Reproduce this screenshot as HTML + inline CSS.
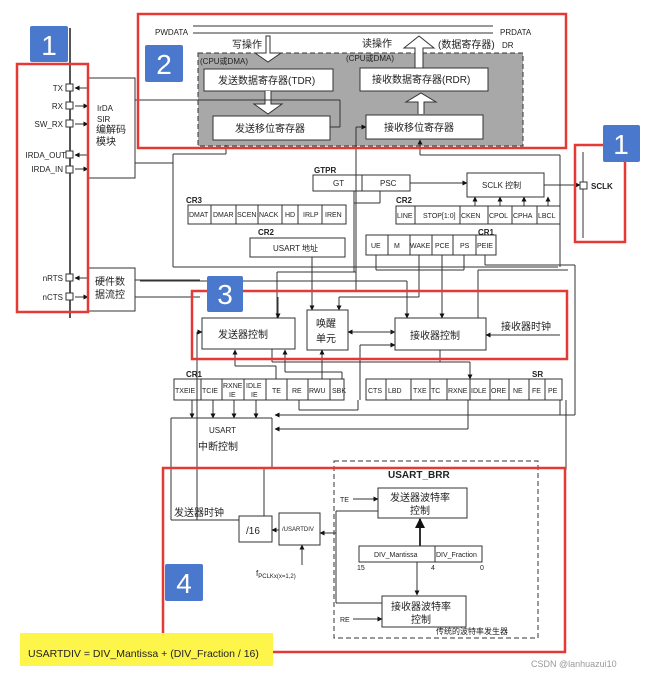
<!DOCTYPE html>
<html><head><meta charset="utf-8"><style>
html,body{margin:0;padding:0;background:#fff}
svg{display:block}
text{font-family:"Liberation Sans","Noto Sans CJK SC",sans-serif;fill:#222}
.s{font-size:8px}
.c{font-size:10px}
</style></head><body>
<svg width="667" height="676" viewBox="0 0 667 676" xmlns="http://www.w3.org/2000/svg">
<defs><marker id="a" viewBox="0 0 10 10" refX="9" refY="5" markerWidth="5" markerHeight="5" orient="auto"><path d="M0,0L10,5L0,10z" fill="#111"/></marker></defs>
<g fill="none" stroke="#333" stroke-width="1">
<line x1="70" y1="28" x2="70" y2="318" stroke="#555" stroke-width="2"/>
<rect x="88" y="78" width="47" height="100"/>
<rect x="88" y="268" width="47" height="43"/>
<line x1="88" y1="88" x2="75" y2="88" marker-end="url(#a)"/>
<line x1="75" y1="106" x2="88" y2="106" marker-end="url(#a)"/>
<line x1="75" y1="124" x2="88" y2="124" marker-end="url(#a)"/>
<line x1="88" y1="155" x2="75" y2="155" marker-end="url(#a)"/>
<line x1="75" y1="169" x2="88" y2="169" marker-end="url(#a)"/>
<line x1="88" y1="278" x2="75" y2="278" marker-end="url(#a)"/>
<line x1="75" y1="297" x2="88" y2="297" marker-end="url(#a)"/>
<line x1="135" y1="100" x2="200" y2="100"/>
<line x1="135" y1="163" x2="173" y2="163"/>
<line x1="135" y1="280" x2="200" y2="280"/>
<line x1="135" y1="297" x2="200" y2="297"/>
<line x1="193" y1="26" x2="493" y2="26"/>
<line x1="193" y1="33" x2="493" y2="33"/>
<rect x="198" y="53" width="325" height="93" fill="#a8a8a8" stroke-dasharray="5,3"/>
<path d="M266,36 L266,53 L255,53 L268,62 L281,53 L270,53 L270,36 Z" fill="#fff"/>
<path d="M415,68 L415,48 L404,48 L419,36 L434,48 L423,48 L423,68 Z" fill="#fff"/>
<rect x="204" y="69" width="129" height="22" fill="#fff"/>
<rect x="213" y="116" width="117" height="24" fill="#fff"/>
<rect x="360" y="68" width="128" height="23" fill="#fff"/>
<rect x="366" y="115" width="117" height="24" fill="#fff"/>
<path d="M265,91 L265,104 L254,104 L268,114 L282,104 L271,104 L271,91" fill="#fff"/>
<path d="M418,114 L418,102 L406,102 L421,93 L436,102 L424,102 L424,114" fill="#fff"/>
<line x1="140" y1="100" x2="340" y2="100"/><line x1="340" y1="100" x2="340" y2="127"/><line x1="340" y1="127" x2="330" y2="127"/>
<line x1="173" y1="154" x2="173" y2="267"/><line x1="173" y1="154" x2="226" y2="154"/><line x1="226" y1="154" x2="226" y2="145"/>
<line x1="173" y1="267" x2="558" y2="267"/>
<line x1="356" y1="127" x2="366" y2="127" marker-end="url(#a)"/><line x1="356" y1="127" x2="356" y2="290"/>
<line x1="420" y1="155" x2="420" y2="140" marker-end="url(#a)"/><line x1="420" y1="155" x2="560" y2="155"/><line x1="560" y1="155" x2="560" y2="267"/>
<rect x="313" y="175" width="97" height="16"/><line x1="362" y1="175" x2="362" y2="191"/>
<line x1="410" y1="183" x2="467" y2="183" marker-end="url(#a)"/>
<rect x="467" y="173" width="77" height="24"/>
<line x1="544" y1="185" x2="580" y2="185" marker-end="url(#a)"/>
<line x1="583" y1="152" x2="583" y2="238" stroke="#777" stroke-width="1.5"/>
<line x1="354" y1="191" x2="354" y2="203"/><line x1="380" y1="191" x2="380" y2="203"/><line x1="354" y1="203" x2="380" y2="203"/>
<rect x="188" y="205" width="158" height="19"/>
<line x1="211" y1="205" x2="211" y2="224"/><line x1="236" y1="205" x2="236" y2="224"/><line x1="258" y1="205" x2="258" y2="224"/><line x1="282" y1="205" x2="282" y2="224"/><line x1="298" y1="205" x2="298" y2="224"/><line x1="322" y1="205" x2="322" y2="224"/>
<rect x="396" y="206" width="164" height="18"/>
<line x1="415" y1="206" x2="415" y2="224"/><line x1="460" y1="206" x2="460" y2="224"/><line x1="488" y1="206" x2="488" y2="224"/><line x1="512" y1="206" x2="512" y2="224"/><line x1="537" y1="206" x2="537" y2="224"/>
<line x1="475" y1="206" x2="475" y2="197" marker-end="url(#a)"/><line x1="500" y1="206" x2="500" y2="197" marker-end="url(#a)"/><line x1="524" y1="206" x2="524" y2="197" marker-end="url(#a)"/><line x1="548" y1="206" x2="548" y2="197" marker-end="url(#a)"/>
<rect x="250" y="238" width="95" height="19"/>
<rect x="366" y="235" width="130" height="20"/>
<line x1="388" y1="235" x2="388" y2="255"/><line x1="410" y1="235" x2="410" y2="255"/><line x1="432" y1="235" x2="432" y2="255"/><line x1="453" y1="235" x2="453" y2="255"/><line x1="476" y1="235" x2="476" y2="255"/>
<line x1="354" y1="203" x2="354" y2="272"/>
<line x1="376" y1="255" x2="376" y2="270"/><line x1="464" y1="255" x2="464" y2="270"/><line x1="376" y1="270" x2="464" y2="270"/>
<line x1="485" y1="255" x2="485" y2="265"/><line x1="485" y1="265" x2="575" y2="265"/><line x1="575" y1="265" x2="575" y2="415"/><line x1="575" y1="415" x2="275" y2="415" marker-end="url(#a)"/>
<rect x="202" y="318" width="93" height="31"/>
<rect x="307" y="310" width="41" height="40"/>
<rect x="395" y="318" width="91" height="32"/>
<line x1="277" y1="272" x2="277" y2="318"/>
<line x1="277" y1="272" x2="356" y2="272"/>
<line x1="140" y1="281" x2="407" y2="281"/><line x1="407" y1="281" x2="407" y2="318" marker-end="url(#a)"/>
<line x1="278" y1="297" x2="278" y2="318" marker-end="url(#a)"/>
<line x1="312" y1="257" x2="312" y2="305"/><line x1="312" y1="305" x2="312" y2="310" marker-end="url(#a)"/>
<line x1="419" y1="255" x2="419" y2="297"/><line x1="419" y1="297" x2="339" y2="297"/><line x1="339" y1="297" x2="339" y2="310" marker-end="url(#a)"/>
<line x1="442" y1="255" x2="442" y2="318" marker-end="url(#a)"/>
<line x1="348" y1="332" x2="395" y2="332" marker-end="url(#a)"/><line x1="395" y1="332" x2="348" y2="332" marker-end="url(#a)"/>
<line x1="560" y1="335" x2="486" y2="335" marker-end="url(#a)"/>
<line x1="478" y1="270" x2="478" y2="318"/><line x1="478" y1="270" x2="568" y2="270"/>
<line x1="197" y1="332" x2="202" y2="332" marker-end="url(#a)"/><line x1="197" y1="332" x2="197" y2="520"/>
<line x1="360" y1="345" x2="395" y2="345" marker-end="url(#a)"/><line x1="360" y1="345" x2="360" y2="400"/>
<rect x="174" y="379" width="170" height="21"/>
<line x1="201" y1="379" x2="201" y2="400"/><line x1="222" y1="379" x2="222" y2="400"/><line x1="244" y1="379" x2="244" y2="400"/><line x1="266" y1="379" x2="266" y2="400"/><line x1="287" y1="379" x2="287" y2="400"/><line x1="308" y1="379" x2="308" y2="400"/><line x1="330" y1="379" x2="330" y2="400"/>
<rect x="366" y="379" width="196" height="21"/>
<line x1="386" y1="379" x2="386" y2="400"/><line x1="411" y1="379" x2="411" y2="400"/><line x1="430" y1="379" x2="430" y2="400"/><line x1="447" y1="379" x2="447" y2="400"/><line x1="470" y1="379" x2="470" y2="400"/><line x1="490" y1="379" x2="490" y2="400"/><line x1="509" y1="379" x2="509" y2="400"/><line x1="529" y1="379" x2="529" y2="400"/><line x1="545" y1="379" x2="545" y2="400"/>
<line x1="276" y1="379" x2="276" y2="366"/><line x1="276" y1="366" x2="235" y2="366"/><line x1="235" y1="366" x2="235" y2="350" marker-end="url(#a)"/>
<line x1="342" y1="379" x2="342" y2="372"/><line x1="342" y1="372" x2="285" y2="372"/><line x1="285" y1="372" x2="285" y2="350" marker-end="url(#a)"/>
<line x1="322" y1="379" x2="322" y2="350" marker-end="url(#a)"/>
<line x1="272" y1="349" x2="272" y2="362"/><line x1="272" y1="362" x2="470" y2="362"/>
<line x1="440" y1="350" x2="440" y2="362"/><line x1="470" y1="362" x2="470" y2="379" marker-end="url(#a)"/>
<line x1="192" y1="400" x2="192" y2="418" marker-end="url(#a)"/><line x1="213" y1="400" x2="213" y2="418" marker-end="url(#a)"/><line x1="234" y1="400" x2="234" y2="418" marker-end="url(#a)"/><line x1="256" y1="400" x2="256" y2="418" marker-end="url(#a)"/>
<line x1="468" y1="400" x2="468" y2="429"/><line x1="468" y1="429" x2="275" y2="429" marker-end="url(#a)"/>
<line x1="560" y1="400" x2="560" y2="415"/>
<line x1="299" y1="400" x2="299" y2="410"/><line x1="299" y1="410" x2="358" y2="410"/><line x1="358" y1="410" x2="358" y2="400"/>
<line x1="171" y1="418" x2="272" y2="418"/><line x1="171" y1="418" x2="171" y2="520"/><line x1="272" y1="418" x2="272" y2="468"/>
<line x1="171" y1="520" x2="239" y2="520"/>
<line x1="264" y1="468" x2="264" y2="516"/>
<line x1="566" y1="400" x2="566" y2="470"/>
<rect x="334" y="461" width="204" height="177" stroke-dasharray="5,3"/>
<rect x="239" y="516" width="33" height="26"/>
<rect x="279" y="513" width="41" height="32"/>
<line x1="279" y1="530" x2="272" y2="530" marker-end="url(#a)"/>
<line x1="336" y1="533" x2="320" y2="533" marker-end="url(#a)"/>
<line x1="336" y1="511" x2="336" y2="603"/>
<line x1="336" y1="511" x2="378" y2="511"/><line x1="336" y1="603" x2="382" y2="603"/>
<line x1="302" y1="565" x2="302" y2="545" marker-end="url(#a)"/>
<rect x="378" y="488" width="89" height="30"/>
<rect x="382" y="596" width="84" height="31"/>
<rect x="359" y="546" width="123" height="16"/><line x1="435" y1="546" x2="435" y2="562"/>
<line x1="420" y1="546" x2="420" y2="519" stroke-width="2" marker-end="url(#a)"/>
<line x1="417" y1="562" x2="417" y2="595" marker-end="url(#a)"/>
<line x1="353" y1="499" x2="378" y2="499" marker-end="url(#a)"/>
<line x1="353" y1="619" x2="382" y2="619" marker-end="url(#a)"/>
</g>
<g fill="#fff" stroke="#333">
<rect x="66" y="84" width="7" height="7"/><rect x="66" y="102" width="7" height="7"/><rect x="66" y="120" width="7" height="7"/><rect x="66" y="151" width="7" height="7"/><rect x="66" y="166" width="7" height="7"/><rect x="66" y="274" width="7" height="7"/><rect x="66" y="293" width="7" height="7"/><rect x="580" y="182" width="7" height="7"/>
</g>
<g fill="none" stroke="#e53935" stroke-width="2.5">
<rect x="17" y="64" width="71" height="248"/>
<rect x="138" y="14" width="428" height="134"/>
<rect x="575" y="145" width="50" height="97"/>
<rect x="192" y="291" width="375" height="68"/>
<rect x="163" y="468" width="402" height="184"/>
</g>
<g fill="#4a78cc">
<rect x="30" y="26" width="38" height="36" rx="2"/>
<rect x="145" y="45" width="38" height="37" rx="2"/>
<rect x="603" y="125" width="37" height="37" rx="2"/>
<rect x="207" y="276" width="36" height="36" rx="2"/>
<rect x="165" y="564" width="38" height="37" rx="2"/>
</g>
<g font-size="28" text-anchor="middle">
<text x="49" y="55" style="fill:#fff">1</text><text x="164" y="74" style="fill:#fff">2</text><text x="621" y="154" style="fill:#fff">1</text><text x="225" y="304" style="fill:#fff">3</text><text x="184" y="593" style="fill:#fff">4</text>
</g>
<rect x="20" y="633" width="253" height="33" fill="#fdf54a"/>
<text x="28" y="657" font-size="10.5">USARTDIV = DIV_Mantissa + (DIV_Fraction / 16)</text>
<text x="531" y="667" font-size="9" style="fill:#999">CSDN @lanhuazui10</text>
<g class="s" text-anchor="end">
<text x="63" y="91">TX</text><text x="63" y="109">RX</text><text x="63" y="127">SW_RX</text><text x="66" y="158">IRDA_OUT</text><text x="63" y="172">IRDA_IN</text><text x="63" y="281">nRTS</text><text x="63" y="300">nCTS</text>
</g>
<g class="s"><text x="97" y="111">IrDA</text><text x="97" y="122">SIR</text><text x="96" y="133" class="c">编解码</text><text x="96" y="145" class="c">模块</text>
<text x="95" y="285" class="c">硬件数</text><text x="95" y="298" class="c">据流控</text>
<text x="155" y="35">PWDATA</text><text x="500" y="35">PRDATA</text>
<text x="232" y="48" class="c">写操作</text><text x="362" y="47" class="c">读操作</text><text x="438" y="48" class="c">(数据寄存器)</text><text x="502" y="48">DR</text>
<text x="200" y="64">(CPU或DMA)</text><text x="346" y="61">(CPU或DMA)</text>
<text x="218" y="84" class="c">发送数据寄存器(TDR)</text><text x="372" y="83" class="c">接收数据寄存器(RDR)</text>
<text x="235" y="132" class="c">发送移位寄存器</text><text x="384" y="131" class="c">接收移位寄存器</text>
<text x="314" y="173" font-weight="bold">GTPR</text><text x="333" y="186">GT</text><text x="380" y="186">PSC</text>
<text x="482" y="188">SCLK 控制</text><text x="591" y="189" font-weight="bold">SCLK</text>
<text x="186" y="203" font-weight="bold">CR3</text><text x="396" y="203" font-weight="bold">CR2</text>
<text x="189" y="217" font-size="7">DMAT</text><text x="213" y="217" font-size="7">DMAR</text><text x="237" y="217" font-size="7">SCEN</text><text x="259" y="217" font-size="7">NACK</text><text x="285" y="217" font-size="7">HD</text><text x="303" y="217" font-size="7">IRLP</text><text x="325" y="217" font-size="7">IREN</text>
<text x="397" y="218" font-size="7">LINE</text><text x="423" y="218" font-size="7">STOP[1:0]</text><text x="461" y="218" font-size="7">CKEN</text><text x="489" y="218" font-size="7">CPOL</text><text x="513" y="218" font-size="7">CPHA</text><text x="538" y="218" font-size="7">LBCL</text>
<text x="258" y="235" font-weight="bold">CR2</text><text x="478" y="235" font-weight="bold">CR1</text>
<text x="273" y="251">USART 地址</text>
<text x="371" y="248" font-size="7">UE</text><text x="394" y="248" font-size="7">M</text><text x="410" y="248" font-size="7">WAKE</text><text x="435" y="248" font-size="7">PCE</text><text x="460" y="248" font-size="7">PS</text><text x="477" y="248" font-size="7">PEIE</text>
<text x="218" y="338" class="c">发送器控制</text><text x="316" y="327" class="c">唤醒</text><text x="316" y="342" class="c">单元</text><text x="410" y="339" class="c">接收器控制</text><text x="501" y="330" class="c">接收器时钟</text>
<text x="186" y="377" font-weight="bold">CR1</text><text x="532" y="377" font-weight="bold">SR</text>
<text x="175" y="393" font-size="7">TXEIE</text><text x="202" y="393" font-size="7">TCIE</text><text x="223" y="388" font-size="7">RXNE</text><text x="229" y="397" font-size="7">IE</text><text x="246" y="388" font-size="7">IDLE</text><text x="251" y="397" font-size="7">IE</text><text x="272" y="393" font-size="7">TE</text><text x="292" y="393" font-size="7">RE</text><text x="309" y="393" font-size="7">RWU</text><text x="332" y="393" font-size="7">SBK</text>
<text x="368" y="393" font-size="7">CTS</text><text x="388" y="393" font-size="7">LBD</text><text x="413" y="393" font-size="7">TXE</text><text x="431" y="393" font-size="7">TC</text><text x="448" y="393" font-size="7">RXNE</text><text x="471" y="393" font-size="7">IDLE</text><text x="491" y="393" font-size="7">ORE</text><text x="513" y="393" font-size="7">NE</text><text x="532" y="393" font-size="7">FE</text><text x="548" y="393" font-size="7">PE</text>
<text x="209" y="433">USART</text><text x="198" y="450" class="c">中断控制</text>
<text x="388" y="478" font-size="10" font-weight="bold">USART_BRR</text>
<text x="174" y="516" class="c">发送器时钟</text>
<text x="246" y="534" class="c">/16</text><text x="282" y="531" font-size="6">/USARTDIV</text>
<text x="256" y="576">f<tspan font-size="6" dy="2">PCLKx(x=1,2)</tspan></text>
<text x="340" y="502" font-size="7">TE</text><text x="340" y="622" font-size="7">RE</text>
<text x="390" y="501" class="c">发送器波特率</text><text x="410" y="514" class="c">控制</text>
<text x="391" y="610" class="c">接收器波特率</text><text x="411" y="623" class="c">控制</text>
<text x="374" y="557" font-size="7">DIV_Mantissa</text><text x="436" y="557" font-size="7">DIV_Fraction</text>
<text x="357" y="570" font-size="7">15</text><text x="431" y="570" font-size="7">4</text><text x="480" y="570" font-size="7">0</text>
<text x="436" y="634">传统的波特率发生器</text>
</g>
</svg>
</body></html>
